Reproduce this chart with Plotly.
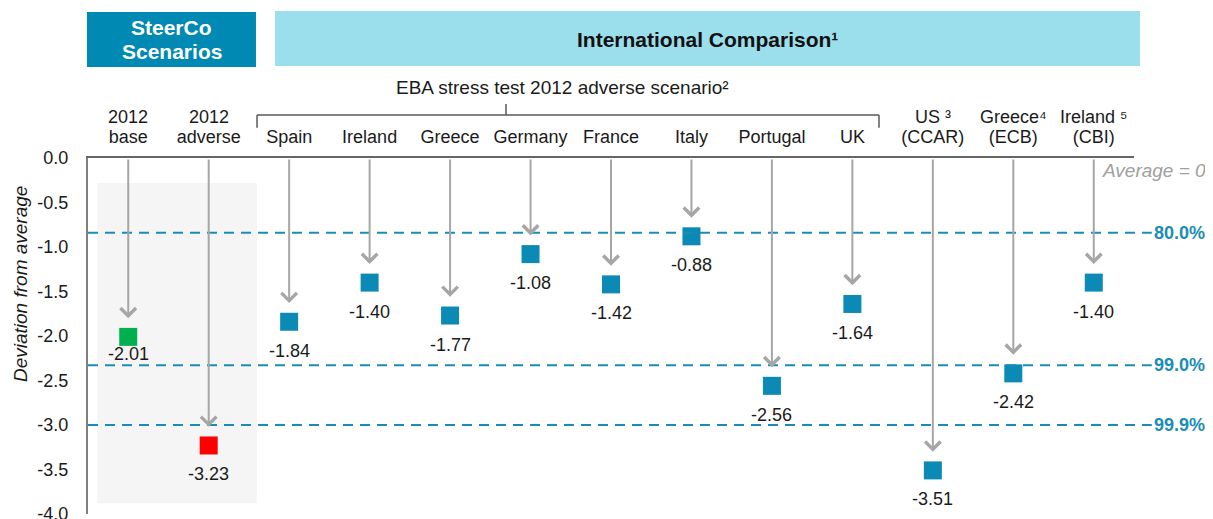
import plotly.graph_objects as go

# ------------------------------------------------------
# Data
# ------------------------------------------------------
cat_top = ["2012", "2012", "", "", "", "", "", "", "", "", "US ³", "Greece⁴", "Ireland ⁵"]
cat_bottom = ["base", "adverse", "Spain", "Ireland", "Greece", "Germany",
              "France", "Italy", "Portugal", "UK", "(CCAR)", "(ECB)", "(CBI)"]
values = [-2.01, -3.23, -1.84, -1.40, -1.77, -1.08, -1.42, -0.88, -2.56, -1.64, -3.51, -2.42, -1.40]
marker_colors = ["#00b050", "#ff0000"] + ["#0a8ab4"] * 11

level_labels = ["80.0%", "99.0%", "99.9%"]
level_values = [-0.84, -2.33, -3.0]

y_ticks = [0.0, -0.5, -1.0, -1.5, -2.0, -2.5, -3.0, -3.5, -4.0]

FONT = "Arial, Liberation Sans, sans-serif"
TEAL = "#1a8db6"
GREY_ARROW = "#a6a6a6"
TXT = "#1a1a1a"

x = list(range(len(values)))

fig = go.Figure()

fig.add_trace(
    go.Scatter(
        x=x, y=values,
        mode="markers",
        marker=dict(symbol="square", size=18, color=marker_colors),
        showlegend=False,
        hoverinfo="skip",
    )
)

annotations = []
shapes = []

# ------------------------------------------------------
# Arrows from the zero line and value labels
# ------------------------------------------------------
for i, v in enumerate(values):
    annotations.append(dict(
        x=i, y=v + 0.21, ax=i, ay=0, xref="x", yref="y", axref="x", ayref="y",
        text="", showarrow=True, arrowhead=4, arrowsize=1.5, arrowwidth=2,
        arrowcolor=GREY_ARROW, standoff=0, startstandoff=0,
        font=dict(size=1),
    ))
    annotations.append(dict(
        x=i, y=v, xref="x", yref="y", text=f"{v:.2f}", showarrow=False,
        xanchor="center", yanchor="middle",
        yshift=-17 if i == 0 else -29,
        font=dict(family=FONT, size=18, color=TXT),
    ))

# upper line of two-line category labels
for i, t in enumerate(cat_top):
    if t:
        annotations.append(dict(
            x=i, y=1, xref="x", yref="paper", text=t, showarrow=False,
            xanchor="center", yanchor="middle", yshift=41,
            font=dict(family=FONT, size=18, color=TXT),
        ))

# ------------------------------------------------------
# Confidence levels
# ------------------------------------------------------
for lbl, lv in zip(level_labels, level_values):
    shapes.append(dict(
        type="line", xref="paper", yref="y", x0=0, x1=1.017, y0=lv, y1=lv,
        line=dict(color=TEAL, width=2, dash="10px,7px"), layer="above",
    ))
    annotations.append(dict(
        x=1.017, y=lv, xref="paper", yref="y", xanchor="left", yanchor="middle",
        text=lbl, showarrow=False,
        font=dict(family=FONT, size=18, color=TEAL, weight="bold"),
    ))

# shaded SteerCo area
shapes.append(dict(
    type="rect", xref="x", yref="y", x0=-0.385, x1=1.6, y0=-0.28, y1=-3.88,
    fillcolor="#f5f5f5", line=dict(width=0), layer="below",
))

# header boxes
shapes.append(dict(
    type="rect", xref="paper", yref="paper", x0=-0.001, x1=0.1606, y0=1.2556, y1=1.41,
    fillcolor="#0089b3", line=dict(width=0),
))
shapes.append(dict(
    type="rect", xref="paper", yref="paper", x0=0.1788, x1=1.0057, y0=1.2584, y1=1.413,
    fillcolor="#9cdfec", line=dict(width=0),
))
for txt, yy in [("SteerCo", 1.367), ("Scenarios", 1.300)]:
    annotations.append(dict(
        x=0.08, y=yy, xref="paper", yref="paper", showarrow=False,
        xanchor="center", yanchor="middle",
        text=txt, font=dict(family=FONT, size=21, color="white", weight="bold"),
    ))
annotations.append(dict(
    x=0.592, y=1.333, xref="paper", yref="paper", showarrow=False,
    xanchor="center", yanchor="middle",
    text="International Comparison¹",
    font=dict(family=FONT, size=21, color="#111111", weight="bold"),
))

# EBA bracket
bracket_color = "#595959"
shapes += [
    dict(type="line", xref="paper", yref="paper", x0=0.1616, x1=0.7562, y0=1.121, y1=1.121,
         line=dict(color=bracket_color, width=1.5)),
    dict(type="line", xref="paper", yref="paper", x0=0.1616, x1=0.1616, y0=1.121, y1=1.085,
         line=dict(color=bracket_color, width=1.5)),
    dict(type="line", xref="paper", yref="paper", x0=0.7562, x1=0.7562, y0=1.121, y1=1.085,
         line=dict(color=bracket_color, width=1.5)),
    dict(type="line", xref="paper", yref="paper", x0=0.3996, x1=0.3996, y0=1.121, y1=1.152,
         line=dict(color=bracket_color, width=1.5)),
]
annotations.append(dict(
    x=0.4532, y=1.197, xref="paper", yref="paper", showarrow=False,
    xanchor="center", yanchor="middle",
    text="EBA stress test 2012 adverse scenario²",
    font=dict(family=FONT, size=19, color=TXT),
))

annotations.append(dict(
    x=1.0705, y=0.966, xref="paper", yref="paper", xanchor="right", yanchor="middle",
    showarrow=False, text="Average = 0",
    font=dict(family=FONT, size=19, color="#a0a0a0", style="italic"),
))

# y-axis title as rotated text (sits above the plot centre in the reference)
annotations.append(dict(
    x=-0.065, y=0.646, xref="paper", yref="paper", showarrow=False, textangle=-90,
    xanchor="center", yanchor="middle",
    text="Deviation from average",
    font=dict(family=FONT, size=19, color=TXT, style="italic"),
))

# page body has an 8px margin, so size and offsets are reduced by that amount
fig.update_layout(
    width=1205, height=511,
    margin=dict(l=80, r=79, t=150, b=5, autoexpand=False),
    plot_bgcolor="white", paper_bgcolor="white",
    font=dict(family=FONT, size=18, color=TXT),
    xaxis=dict(
        range=[-0.5, 12.5], side="top",
        tickvals=x, ticktext=cat_bottom,
        showline=True, linecolor="#666666", linewidth=2,
        showgrid=False, zeroline=False, ticks="", ticklabelstandoff=6,
        automargin=False,
        tickfont=dict(family=FONT, size=18, color=TXT),
    ),
    yaxis=dict(
        range=[-4.0, 0.0], tickvals=y_ticks, ticktext=[f"{t:.1f}" for t in y_ticks],
        showline=True, linecolor="#7f7f7f", linewidth=2,
        showgrid=False, zeroline=False, ticks="", ticklabelstandoff=14,
        ticklabeloverflow="allow", automargin=False,
        tickfont=dict(family=FONT, size=18, color=TXT),
    ),
    shapes=shapes,
    annotations=annotations,
    showlegend=False,
)

fig.write_html("out.html")
